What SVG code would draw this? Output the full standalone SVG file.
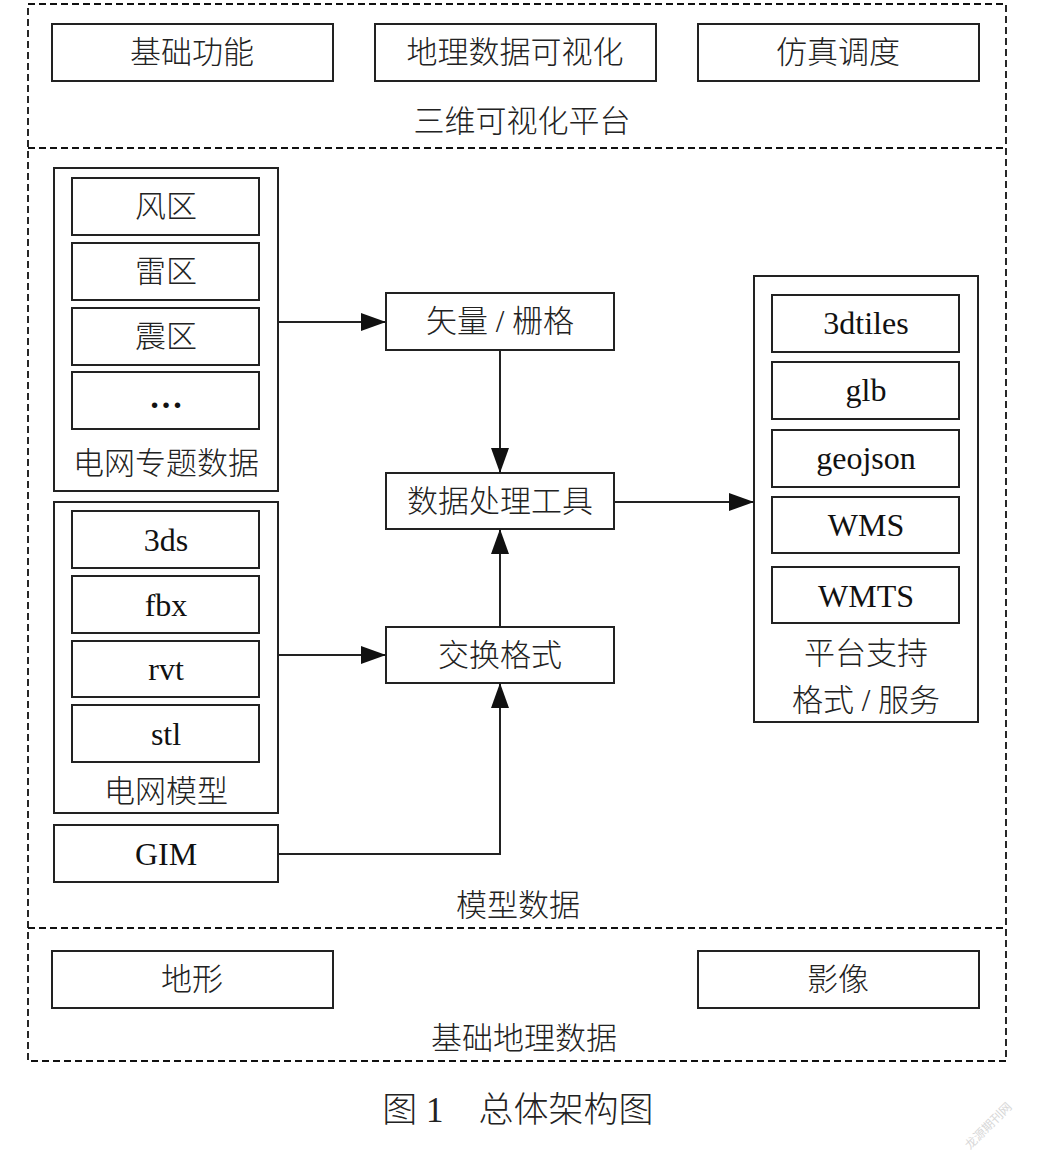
<svg xmlns="http://www.w3.org/2000/svg" width="1039" height="1167" viewBox="0 0 1039 1167">
<style>
.bg{fill:#fff}
.dash{fill:none;stroke:#111;stroke-width:1.8;stroke-dasharray:7 4}
.box{fill:#fff;stroke:#222;stroke-width:2}
.grp{fill:#fff;stroke:#222;stroke-width:2}
.zh{font-family:"Liberation Serif","Noto Sans CJK SC",serif;font-size:31px;fill:#222;text-anchor:middle;dominant-baseline:central;font-weight:300}
.en{font-family:"Liberation Serif",serif;font-size:32px;fill:#111;text-anchor:middle;dominant-baseline:central}
.cap{font-family:"Liberation Serif","Noto Sans CJK SC",serif;font-size:35px;fill:#222;text-anchor:middle;dominant-baseline:central;font-weight:300}
.line{fill:none;stroke:#222;stroke-width:2}
.wm{font-family:"Noto Sans CJK SC",sans-serif;font-size:12px;fill:#d8d8d8}
</style>
<defs>
<marker id="arr" markerUnits="userSpaceOnUse" markerWidth="26" markerHeight="18" refX="25" refY="9" orient="auto">
<path d="M0,0 L25,9 L0,18 z" fill="#111"/>
</marker>
</defs>
<rect class="bg" x="0" y="0" width="1039" height="1167"/>

<g id="layers">
<rect class="dash" x="28" y="4" width="978" height="1057"/>
<line class="dash" x1="28" y1="148" x2="1006" y2="148"/>
<line class="dash" x1="28" y1="928" x2="1006" y2="928"/>
<text class="zh" x="522" y="121">三维可视化平台</text>
<text class="zh" x="518" y="905">模型数据</text>
<text class="zh" x="524" y="1038">基础地理数据</text>
</g>

<g id="n-jichugongneng"><rect class="box" x="52" y="24" width="281" height="57"/><text class="zh" x="192" y="52">基础功能</text></g>
<g id="n-dilishuju"><rect class="box" x="375" y="24" width="281" height="57"/><text class="zh" x="515" y="52">地理数据可视化</text></g>
<g id="n-fangzhen"><rect class="box" x="698" y="24" width="281" height="57"/><text class="zh" x="838" y="52">仿真调度</text></g>

<g id="n-zhuanti">
<rect class="grp" x="54" y="168" width="224" height="323"/>
<rect class="box" x="72" y="178" width="187" height="57"/><text class="zh" x="166" y="206">风区</text>
<rect class="box" x="72" y="243" width="187" height="57"/><text class="zh" x="166" y="271">雷区</text>
<rect class="box" x="72" y="308" width="187" height="57"/><text class="zh" x="166" y="336">震区</text>
<rect class="box" x="72" y="372" width="187" height="57"/><text class="en" x="166" y="396" style="font-weight:bold;font-size:34px">…</text>
<text class="zh" x="166" y="463">电网专题数据</text>
</g>

<g id="n-moxing">
<rect class="grp" x="54" y="502" width="224" height="311"/>
<rect class="box" x="72" y="511" width="187" height="57"/><text class="en" x="166" y="540">3ds</text>
<rect class="box" x="72" y="576" width="187" height="57"/><text class="en" x="166" y="605">fbx</text>
<rect class="box" x="72" y="641" width="187" height="56"/><text class="en" x="166" y="669">rvt</text>
<rect class="box" x="72" y="705" width="187" height="57"/><text class="en" x="166" y="734">stl</text>
<text class="zh" x="166" y="791">电网模型</text>
</g>

<g id="n-gim"><rect class="box" x="54" y="825" width="224" height="57"/><text class="en" x="166" y="854">GIM</text></g>

<g id="n-shiliang"><rect class="box" x="386" y="293" width="228" height="57"/><text class="zh" x="500" y="321">矢量 / 栅格</text></g>
<g id="n-chuli"><rect class="box" x="386" y="473" width="228" height="56"/><text class="zh" x="500" y="501">数据处理工具</text></g>
<g id="n-jiaohuan"><rect class="box" x="386" y="627" width="228" height="56"/><text class="zh" x="500" y="655">交换格式</text></g>

<g id="n-pingtai">
<rect class="grp" x="754" y="276" width="224" height="446"/>
<rect class="box" x="772" y="295" width="187" height="57"/><text class="en" x="866" y="323">3dtiles</text>
<rect class="box" x="772" y="362" width="187" height="57"/><text class="en" x="866" y="390">glb</text>
<rect class="box" x="772" y="430" width="187" height="57"/><text class="en" x="866" y="458">geojson</text>
<rect class="box" x="772" y="497" width="187" height="56"/><text class="en" x="866" y="525">WMS</text>
<rect class="box" x="772" y="567" width="187" height="56"/><text class="en" x="866" y="596">WMTS</text>
<text class="zh" x="866" y="653">平台支持</text>
<text class="zh" x="866" y="700">格式 / 服务</text>
</g>

<g id="n-dixing"><rect class="box" x="52" y="951" width="281" height="57"/><text class="zh" x="192" y="979">地形</text></g>
<g id="n-yingxiang"><rect class="box" x="698" y="951" width="281" height="57"/><text class="zh" x="838" y="979">影像</text></g>

<g id="connectors">
<line class="line" x1="278" y1="322" x2="386" y2="322" marker-end="url(#arr)"/>
<line class="line" x1="500" y1="350" x2="500" y2="473" marker-end="url(#arr)"/>
<line class="line" x1="614" y1="502" x2="754" y2="502" marker-end="url(#arr)"/>
<line class="line" x1="278" y1="655" x2="386" y2="655" marker-end="url(#arr)"/>
<line class="line" x1="500" y1="627" x2="500" y2="529" marker-end="url(#arr)"/>
<polyline class="line" points="278,854 500,854 500,683" marker-end="url(#arr)"/>
</g>

<text class="cap" x="518" y="1110">图 1　总体架构图</text>
<text class="wm" x="970" y="1150" transform="rotate(-45 970 1150)">龙源期刊网</text>
</svg>
